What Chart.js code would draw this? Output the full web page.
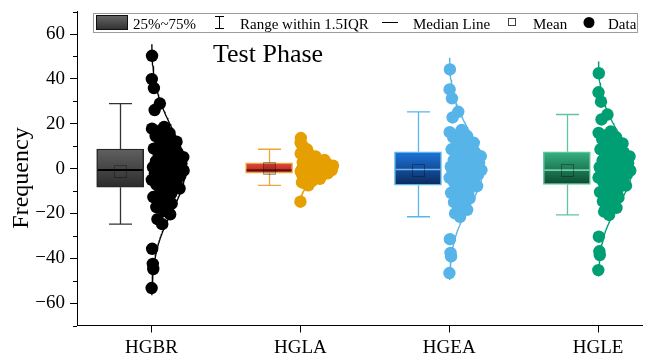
<!DOCTYPE html>
<html>
<head>
<meta charset="utf-8">
<script src="https://cdn.jsdelivr.net/npm/chart.js@4.4.1/dist/chart.umd.min.js"></script>
<style>
  html, body { margin: 0; padding: 0; background: #ffffff; }
  #wrap { width: 649px; height: 356px; }
</style>
</head>
<body>
<div id="wrap"><canvas id="chart" width="649" height="356"></canvas></div>
<script>
// ---- data ----
const categories = ['HGBR', 'HGLA', 'HGEA', 'HGLE'];

const hgbrValues = [-53.3, -44.8, -42.5, -35.8, -24.8, -22.6, -20.4, -18.9, -17.2, -15.6,
  -14.1, -12.7, -11.3, -10.0, -8.9, -8.0, -7.2, -6.4, -5.7, -5.1,
  -4.5, -3.9, -3.3, -2.7, -2.2, -1.7, -1.3, -0.9, -0.8, -0.6,
  -0.4, 0.1, 0.6, 1.1, 1.7, 2.2, 2.8, 3.3, 3.9, 4.5,
  5.1, 5.8, 6.5, 7.2, 8.0, 8.9, 9.8, 10.9, 12.0, 13.2,
  14.5, 15.8, 16.9, 17.8, 18.6, 26.1, 29.0, 35.9, 39.9, 50.3];

const hglaValues = [-14.8, -7.5, -6.8, -6.2, -5.6, -5.1, -4.6, -4.2, -3.8, -3.4,
  -3.1, -2.8, -2.5, -2.3, -2.1, -1.9, -1.7, -1.5, -1.4, -1.3,
  -1.2, -1.1, -1.0, -0.9, -0.9, -0.8, -0.8, -0.7, -0.7, -0.7,
  -0.6, -0.5, -0.4, -0.2, 0.0, 0.2, 0.4, 0.6, 0.8, 1.0,
  1.3, 1.6, 1.9, 2.2, 2.5, 2.7, 3.0, 3.4, 3.8, 4.3,
  4.8, 5.4, 6.0, 6.7, 7.3, 7.9, 8.6, 10.2, 11.6, 13.6];

const hgeaValues = [-46.6, -39.2, -37.6, -31.5, -21.5, -20.0, -18.4, -16.8, -15.0, -13.3,
  -12.0, -10.8, -10.1, -9.0, -7.8, -7.0, -6.2, -5.5, -4.8, -4.2,
  -3.6, -3.1, -2.6, -2.1, -1.7, -1.3, -1.0, -0.7, -0.5, -0.4,
  -0.3, 0.2, 0.8, 1.4, 2.0, 2.6, 3.1, 3.7, 4.3, 4.9,
  5.5, 6.1, 6.7, 7.2, 7.8, 8.6, 9.5, 10.4, 11.5, 12.7,
  13.9, 14.5, 15.0, 16.2, 17.2, 22.8, 25.3, 31.3, 35.3, 44.2];

const hgleValues = [-45.3, -38.6, -36.9, -30.4, -20.7, -19.2, -17.5, -16.1, -14.6, -13.0,
  -11.7, -10.5, -9.6, -8.6, -7.6, -6.7, -5.9, -5.2, -4.6, -4.0,
  -3.5, -3.0, -2.5, -2.1, -1.7, -1.4, -1.1, -0.9, -0.8, -0.7,
  -0.6, 0.0, 0.6, 1.2, 1.8, 2.4, 3.0, 3.6, 4.2, 4.8,
  5.4, 6.0, 6.6, 7.1, 7.8, 8.6, 9.4, 10.3, 11.2, 12.2,
  13.1, 14.0, 15.0, 15.9, 16.5, 21.9, 24.1, 29.8, 34.0, 42.5];

// box statistics per category
const q1Values = [-8.3, -2.1, -7.4, -7.1];
const medianValues = [-0.7, -0.7, -0.4, -0.7];
const q3Values = [8.7, 2.6, 7.5, 7.5];
const whiskerLow = [-24.8, -7.5, -21.5, -20.7];
const whiskerHigh = [29.0, 8.6, 25.3, 24.1];
const meanValues = [-1.1, 0.2, -0.7, -0.8];

const yTickValues = [-60, -40, -20, 0, 20, 40, 60];
const yMinorValues = [-70, -50, -30, -10, 10, 30, 50, 70];

// ---- styling ----
const SERIF = '"Liberation Serif", "Times New Roman", serif';
const groups = [hgbrValues, hglaValues, hgeaValues, hgleValues];
const pointColors = ['#000000', '#E69F00', '#56B4E9', '#009E73'];
const boxTop = ['#606060', '#ea4a3c', '#1f74dc', '#35b282'];
const boxBottom = ['#2c2c2c', '#a3261a', '#0a2a5c', '#0b4a30'];
const boxEdge = ['#262626', '#eba63d', '#5ab5ea', '#62c49d'];
const whiskerColor = ['#333333', '#eba63d', '#5ab5ea', '#62c49d'];
const medianColor = ['#000000', '#5a140c', '#6fb4ea', '#72cda8'];
const meanFill = ['rgba(0,0,0,0)', 'rgba(60,0,0,0.18)', 'rgba(0,0,0,0)', 'rgba(0,0,0,0)'];
const BOX_SHIFT = -0.21;   // box drawn left of the data column
const BOX_PX = 47;
const CAP_PX = 23;
const CURVE_PEAK = 0.226;  // width of the density curve, in x units

function meanOf(a) { return a.reduce((s, v) => s + v, 0) / a.length; }
function sdOf(a) {
  const m = meanOf(a);
  return Math.sqrt(a.reduce((s, v) => s + (v - m) * (v - m), 0) / (a.length - 1));
}
function density(v, m, sd) { return Math.exp(-((v - m) * (v - m)) / (2 * sd * sd)); }

// normal curve fitted to each group, drawn to the right of its data column
const curveDatasets = groups.map((vals, gi) => {
  const m = meanOf(vals), sd = sdOf(vals);
  const pts = [];
  const steps = 160;
  for (let k = 0; k <= steps; k++) {
    const v = m + 3 * sd - (6 * sd * k) / steps;
    pts.push({ x: gi + 1 + CURVE_PEAK * density(v, m, sd), y: v });
  }
  return {
    type: 'line', data: pts, borderColor: pointColors[gi], borderWidth: 1.3,
    pointRadius: 0, fill: false, tension: 0, order: 2
  };
});

// data points spread inside the curve envelope (golden-ratio sequence)
const pointDatasets = groups.map((vals, gi) => {
  const m = meanOf(vals), sd = sdOf(vals);
  return {
    type: 'scatter',
    data: vals.map((v, i) => ({
      x: gi + 1 + CURVE_PEAK * density(v, m, sd) * ((i * 0.6180339887 + 0.27) % 1),
      y: v
    })),
    backgroundColor: pointColors[gi], borderColor: pointColors[gi], borderWidth: 0,
    pointRadius: 6.2, order: 1
  };
});

const boxDataset = {
  type: 'bar',
  data: categories.map((c, i) => ({ x: i + 1 + BOX_SHIFT, y: [q1Values[i], q3Values[i]] })),
  barThickness: BOX_PX,
  grouped: false,
  borderSkipped: false,
  borderWidth: 1.5,
  borderColor: (ctx) => boxEdge[ctx.dataIndex],
  backgroundColor: (ctx) => {
    const i = ctx.dataIndex;
    const ys = ctx.chart.scales && ctx.chart.scales.y;
    if (!ys || i === undefined) return boxTop[i || 0];
    const top = ys.getPixelForValue(q3Values[i]);
    const bot = ys.getPixelForValue(q1Values[i]);
    if (!isFinite(top) || !isFinite(bot) || top === bot) return boxTop[i];
    const g = ctx.chart.ctx.createLinearGradient(0, top, 0, bot);
    g.addColorStop(0, boxTop[i]);
    g.addColorStop(1, boxBottom[i]);
    return g;
  },
  order: 3
};

function crisp(v) { return Math.round(v) + 0.5; }

const boxExtras = {
  id: 'boxExtras',
  beforeDatasetsDraw(chart) {
    const { ctx, scales: { x, y } } = chart;
    ctx.save();
    categories.forEach((c, i) => {
      const cx = crisp(x.getPixelForValue(i + 1 + BOX_SHIFT));
      const yHi = y.getPixelForValue(whiskerHigh[i]);
      const yLo = y.getPixelForValue(whiskerLow[i]);
      const yQ3 = y.getPixelForValue(q3Values[i]);
      const yQ1 = y.getPixelForValue(q1Values[i]);
      ctx.strokeStyle = whiskerColor[i];
      ctx.lineWidth = 1.3;
      ctx.beginPath();
      ctx.moveTo(cx, yHi); ctx.lineTo(cx, yQ3);
      ctx.moveTo(cx, yQ1); ctx.lineTo(cx, yLo);
      ctx.moveTo(cx - CAP_PX / 2, yHi); ctx.lineTo(cx + CAP_PX / 2, yHi);
      ctx.moveTo(cx - CAP_PX / 2, yLo); ctx.lineTo(cx + CAP_PX / 2, yLo);
      ctx.stroke();
    });
    ctx.restore();
  },
  afterDatasetsDraw(chart) {
    const { ctx, scales: { x, y } } = chart;
    ctx.save();
    categories.forEach((c, i) => {
      const cx = x.getPixelForValue(i + 1 + BOX_SHIFT);
      const ym = y.getPixelForValue(medianValues[i]);
      ctx.strokeStyle = medianColor[i];
      ctx.lineWidth = i === 0 ? 2 : 1.6;
      ctx.beginPath();
      ctx.moveTo(cx - BOX_PX / 2 + 1, ym); ctx.lineTo(cx + BOX_PX / 2 - 1, ym);
      ctx.stroke();
      // mean marker
      const yMean = y.getPixelForValue(meanValues[i]);
      const sx = Math.round(cx - 6) + 0.5, sy = Math.round(yMean - 6) + 0.5;
      ctx.fillStyle = meanFill[i];
      ctx.fillRect(sx, sy, 12, 12);
      ctx.strokeStyle = 'rgba(0,0,0,0.32)';
      ctx.lineWidth = 1;
      ctx.strokeRect(sx, sy, 12, 12);
    });
    ctx.restore();
  },
  afterDraw(chart) {
    const { ctx, scales: { y }, chartArea } = chart;
    ctx.save();
    // minor ticks on the value axis
    ctx.strokeStyle = '#000'; ctx.lineWidth = 1;
    ctx.beginPath();
    yMinorValues.forEach(v => {
      const py = crisp(y.getPixelForValue(v));
      ctx.moveTo(chartArea.left - 4, py); ctx.lineTo(chartArea.left, py);
    });
    ctx.stroke();

    // axis title
    ctx.save();
    ctx.translate(22, 178);
    ctx.rotate(-Math.PI / 2);
    ctx.font = '24px ' + SERIF;
    ctx.fillStyle = '#000';
    ctx.textAlign = 'center';
    ctx.textBaseline = 'middle';
    ctx.fillText('Frequency', 0, 0);
    ctx.restore();

    // panel title
    ctx.font = '26px ' + SERIF;
    ctx.fillStyle = '#000';
    ctx.textAlign = 'left';
    ctx.textBaseline = 'alphabetic';
    ctx.fillText('Test Phase', 213, 62);

    // legend
    ctx.fillStyle = '#ffffff';
    ctx.fillRect(93, 13, 545, 19);
    ctx.strokeStyle = '#9c9c9c';
    ctx.strokeRect(93.5, 13.5, 544, 19);
    const lg = ctx.createLinearGradient(0, 15, 0, 30);
    lg.addColorStop(0, '#6a6a6a'); lg.addColorStop(1, '#2f2f2f');
    ctx.fillStyle = lg;
    ctx.fillRect(96, 15, 32, 15);
    ctx.strokeStyle = '#111';
    ctx.strokeRect(96.5, 15.5, 31, 14);

    ctx.font = '15px ' + SERIF;
    ctx.fillStyle = '#000';
    ctx.fillText('25%~75%', 133, 28.5);

    ctx.strokeStyle = '#000';
    ctx.beginPath();
    ctx.moveTo(215, 16.5); ctx.lineTo(224, 16.5);
    ctx.moveTo(219.5, 16.5); ctx.lineTo(219.5, 28.5);
    ctx.moveTo(215, 28.5); ctx.lineTo(224, 28.5);
    ctx.stroke();
    ctx.fillText('Range within 1.5IQR', 240, 28.5);

    ctx.beginPath();
    ctx.moveTo(382, 22.5); ctx.lineTo(398, 22.5);
    ctx.stroke();
    ctx.fillText('Median Line', 413, 28.5);

    ctx.strokeStyle = '#444';
    ctx.strokeRect(508.5, 18.5, 7, 7);
    ctx.fillText('Mean', 533, 28.5);

    ctx.fillStyle = '#000';
    ctx.beginPath();
    ctx.arc(589, 22.5, 5.5, 0, Math.PI * 2);
    ctx.fill();
    ctx.fillText('Data', 608, 28.5);
    ctx.restore();
  }
};

new Chart(document.getElementById('chart'), {
  type: 'scatter',
  data: { datasets: [...pointDatasets, ...curveDatasets, boxDataset] },
  options: {
    responsive: false,
    animation: false,
    events: [],
    devicePixelRatio: 1,
    layout: { padding: { top: 11.6, left: 0, right: 0, bottom: 0 } },
    plugins: { legend: { display: false }, tooltip: { enabled: false } },
    scales: {
      x: {
        type: 'linear', min: 0.5, max: 4.3, offset: false,
        afterBuildTicks: (s) => { s.ticks = categories.map((c, i) => ({ value: i + 1 })); },
        afterFit: (s) => { s.height = 30.5; s.paddingLeft = 0; s.paddingRight = 0; },
        ticks: {
          autoSkip: false, maxRotation: 0, padding: 4, color: '#000',
          font: { family: SERIF, size: 19 },
          callback: (v) => categories[Math.round(v) - 1] || ''
        },
        grid: { offset: false, drawOnChartArea: false, drawTicks: true, tickLength: 7, tickColor: '#000', color: '#000' },
        border: { display: true, color: '#000', width: 1 }
      },
      y: {
        type: 'linear', min: -70, max: 70,
        afterBuildTicks: (s) => { s.ticks = yTickValues.map(v => ({ value: v })); },
        afterFit: (s) => { s.width = 77; s.paddingTop = 0; s.paddingBottom = 0; },
        ticks: {
          padding: 5, color: '#000',
          font: { family: SERIF, size: 19 },
          callback: (v) => (v < 0 ? '\u2212' + Math.abs(v) : String(v))
        },
        grid: { drawOnChartArea: false, drawTicks: true, tickLength: 7, tickColor: '#000', color: '#000' },
        border: { display: true, color: '#000', width: 1 }
      }
    }
  },
  plugins: [boxExtras]
});
</script>
</body>
</html>
